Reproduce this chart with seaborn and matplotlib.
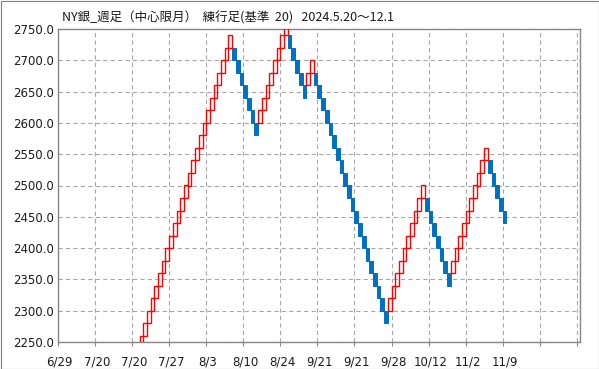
import numpy as np
import pandas as pd
import matplotlib
matplotlib.use("Agg")
import matplotlib.pyplot as plt
from matplotlib.patches import Rectangle
import seaborn as sns

# ---------------- data ----------------
title = "NY銀_週足（中心限月）  練行足(基準  20)   2024.5.20～12.1"
brick_size = 20
first_slot = 22          # slot index of the first visible brick
n_slots = 141            # number of slots on the category axis
label_every = 10
date_labels = ["6/29", "7/20", "7/20", "7/27", "8/3", "8/10", "8/24",
               "9/21", "9/21", "9/28", "10/12", "11/2", "11/9"]

brick_low = [
    # up
    2240, 2260, 2280, 2300, 2320, 2340, 2360, 2380, 2400, 2420, 2440, 2460,
    2480, 2500, 2520, 2540, 2560, 2580, 2600, 2620, 2640, 2660, 2680, 2700, 2720,
    # down
    2700, 2680, 2660, 2640, 2620, 2600, 2580,
    # up
    2600, 2620, 2640, 2660, 2680, 2700, 2720, 2740,
    # down
    2720, 2700, 2680, 2660, 2640,
    # up
    2660, 2680,
    # down
    2660, 2640, 2620, 2600, 2580, 2560, 2540, 2520, 2500, 2480, 2460, 2440,
    2420, 2400, 2380, 2360, 2340, 2320, 2300, 2280,
    # up
    2300, 2320, 2340, 2360, 2380, 2400, 2420, 2440, 2460, 2480,
    # down
    2460, 2440, 2420, 2400, 2380, 2360, 2340,
    # up
    2360, 2380, 2400, 2420, 2440, 2460, 2480, 2500, 2520, 2540,
    # down
    2520, 2500, 2480, 2460, 2440,
]
brick_dir = ("UUUUUUUUUUUUUUUUUUUUUUUUU"
             "DDDDDDD"
             "UUUUUUUU"
             "DDDDD"
             "UU"
             "DDDDDDDDDDDDDDDDDDDD"
             "UUUUUUUUUU"
             "DDDDDDD"
             "UUUUUUUUUU"
             "DDDDD")

y_min, y_max, y_step = 2250, 2750, 50

# ---------------- style ----------------
sns.set_theme(style="white")
plt.rcParams["font.family"] = ["DejaVu Sans"]

UP_COLOR = "#FF0000"
DOWN_COLOR = "#0070C0"
GRID_COLOR = "#A6A6A6"
SPINE_COLOR = "#868686"

df = pd.DataFrame({
    "slot": first_slot + np.arange(len(brick_low)),
    "low": brick_low,
    "dir": list(brick_dir),
    "size": brick_size,
})
up = df[df["dir"] == "U"]
down = df[df["dir"] == "D"]

fig = plt.figure(figsize=(5.99, 3.69), dpi=100)
ax = fig.add_axes([58 / 599, 1 - 342 / 369, 522.5 / 599, 313 / 369])

sns.barplot(data=down, x="slot", y="size", native_scale=True, width=1,
            color=DOWN_COLOR, saturation=1, errorbar=None, ax=ax,
            bottom=down["low"].values, linewidth=0.7, edgecolor=DOWN_COLOR,
            zorder=3)
sns.barplot(data=up, x="slot", y="size", native_scale=True, width=1,
            color=UP_COLOR, saturation=1, fill=False, errorbar=None, ax=ax,
            bottom=up["low"].values, linewidth=1.0, edgecolor=UP_COLOR,
            facecolor="none", zorder=4)

ax.set_xlim(-0.5, n_slots - 0.5)
ax.set_ylim(y_min, y_max)
ax.set_xlabel("")
ax.set_ylabel("")

# x: gridlines/ticks at slot boundaries, labels centered on the slots
major = np.arange(0, n_slots, label_every) - 0.5
ax.set_xticks(major)
ax.set_xticklabels([])
ax.set_xticks(np.arange(len(date_labels)) * label_every, minor=True)
ax.set_xticklabels(date_labels, minor=True)
ax.tick_params(axis="x", which="major", length=3, width=0.8, color=SPINE_COLOR,
               direction="out", bottom=True)
ax.tick_params(axis="x", which="minor", length=0, pad=9.5, labelsize=8.5,
               labelcolor="#1a1a1a", bottom=True)

yt = np.arange(y_min, y_max + 1, y_step)
ax.set_yticks(yt)
ax.set_yticklabels([f"{v:.1f}" for v in yt])
ax.tick_params(axis="y", length=0, pad=3, labelsize=8.5, labelcolor="#1a1a1a", left=True)

ax.grid(True, axis="both", which="major", color=GRID_COLOR,
        linestyle=(0, (3.8, 2.9)), linewidth=0.8, zorder=1)
ax.set_axisbelow(True)

for s in ax.spines.values():
    s.set_visible(True)
    s.set_color(SPINE_COLOR)
    s.set_linewidth(1.0)

fig.text(62 / 599, 1 - 18 / 369, title, ha="left", va="center", fontsize=9,
         color="#1a1a1a", family=["Noto Sans CJK JP", "DejaVu Sans"])

fig.patches.append(Rectangle((0.5 / 599, 0.5 / 369), 1 - 1 / 599, 1 - 1 / 369,
                             transform=fig.transFigure, fill=False,
                             edgecolor="#7f7f7f", linewidth=0.8))

fig.savefig("out.png", dpi=100, facecolor="white")
